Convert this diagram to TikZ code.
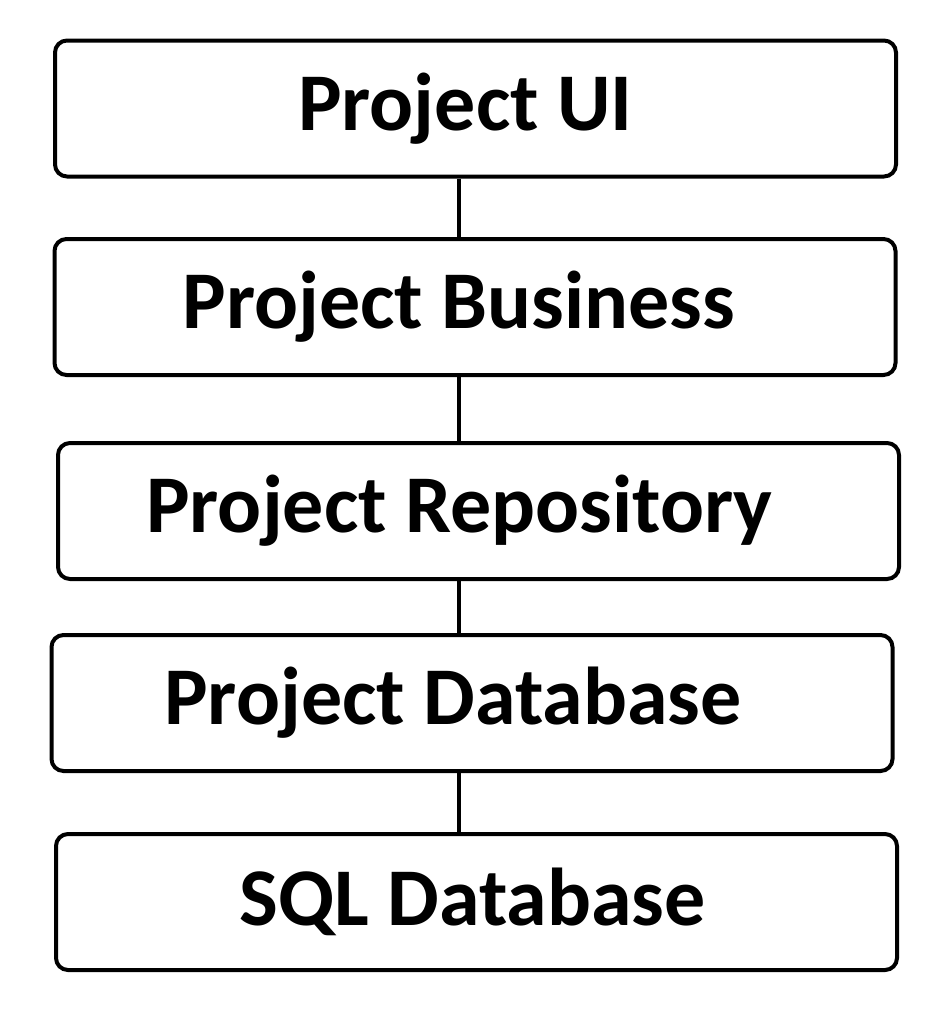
\documentclass[tikz,border=0pt]{standalone}
\usepackage{fontspec}
\setmainfont{Carlito}

\begin{document}
\begin{tikzpicture}[x=1pt, y=-1pt,
  layer/.style={rectangle, rounded corners=12pt, draw, line width=4pt,
    minimum width=841pt, minimum height=136pt, inner sep=0pt,
    font=\fontsize{82}{98}\selectfont\bfseries,
    execute at begin node={\kern#1}},
  layer/.default=0pt]
\useasboundingbox (0,0) rectangle (952,1028);

  % stacked layers
  \node[layer=-20pt] (ui)   at (475.5,108.5) {Project UI};
  \node[layer=-32pt] (biz)  at (475,307)     {Project Business};
  \node[layer=-38pt] (repo) at (478.5,511)   {Project Repository};
  \node[layer=-38pt] (pdb)  at (472,703)     {Project Database};
  \node[layer=-8pt]  (sql)  at (476.5,902)   {SQL Database};

  % vertical links
  \coordinate (spine) at (459,0);
  \draw[line width=4pt] (ui.south -| spine) -- (biz.north -| spine);
  \draw[line width=4pt] (biz.south -| spine) -- (repo.north -| spine);
  \draw[line width=4pt] (repo.south -| spine) -- (pdb.north -| spine);
  \draw[line width=4pt] (pdb.south -| spine) -- (sql.north -| spine);

\end{tikzpicture}
\end{document}
